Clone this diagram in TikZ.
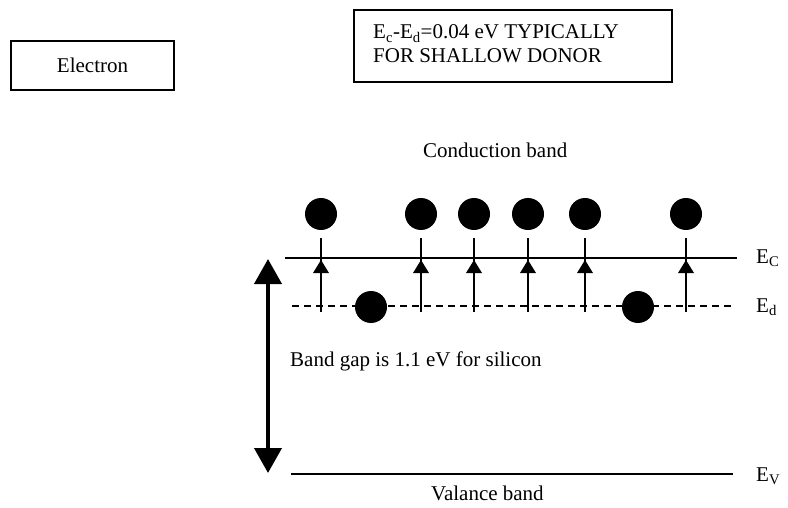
\documentclass[tikz,border=0pt]{standalone}
\usepackage{fontspec}
\setmainfont{Liberation Serif}
\usetikzlibrary{arrows.meta}
\begin{document}
\begin{tikzpicture}[x=1pt,y=-1pt,
  txt/.style={inner sep=0pt,anchor=base west,font=\fontsize{21}{24}\selectfont},
  frame/.style={draw,line width=1.6pt,inner sep=0pt},
  band/.style={line width=1.5pt},
  electron/.style={circle,fill=black,inner sep=0pt,minimum size=32pt},
  jump/.style={line width=2pt}]
\useasboundingbox (0,0) rectangle (788,508);

% legend boxes
\node[frame,minimum width=163pt,minimum height=49pt,font=\fontsize{21}{24}\selectfont] (legend) at (92.5,65.5) {Electron};
\node[frame,anchor=north west,minimum width=318pt,minimum height=72pt] (note) at (353,9) {};
\node[txt] (noteA) at (373,39) {E\textsubscript{c}-E\textsubscript{d}=0.04 eV TYPICALLY};
\node[txt] (noteB) at (373,63) {FOR SHALLOW DONOR};

% band edges
\coordinate (ecL) at (285,258); \coordinate (ecR) at (737,258);
\coordinate (edL) at (292,306); \coordinate (edR) at (733,306);
\coordinate (evL) at (291,474); \coordinate (evR) at (733,474);
\draw[band] (ecL) -- (ecR);
\draw[band,dash pattern=on 7pt off 5pt] (edL) -- (edR);
\draw[band] (evL) -- (evR);

\node[txt] (ec) at (756,263) {E\textsubscript{C}};
\node[txt] (ed) at (756,312) {E\textsubscript{d}};
\node[txt] (ev) at (756,481) {E\textsubscript{V}};

\node[txt] (cb) at (423,158) {Conduction band};
\node[txt] (vb) at (431,500) {Valance band};
\node[txt] (gap) at (290,366) {Band gap is 1.1 eV for silicon};

% band gap double arrow
\coordinate (gapTop) at (268,259);
\coordinate (gapBot) at (268,473);
\draw[line width=4pt,{Triangle[length=25pt,width=27pt]}-{Triangle[length=25pt,width=27pt]}] (gapTop) -- (gapBot);

% donor electrons excited into the conduction band
\foreach \x/\n in {321/a,421/b,474/c,528/d,585/e,686/f}{
  \node[electron] (up\n) at (\x,214) {};
  \coordinate (lo\n) at (\x,312);
  \coordinate (hi\n) at (\x,238);
  \draw[jump] (lo\n) -- (hi\n);
  \fill (\x-8,273) -- (\x,260) -- (\x+8,273) -- cycle;
}

% electrons remaining on donor level
\node[electron] (donA) at (371,307) {};
\node[electron] (donB) at (638,307) {};
\end{tikzpicture}
\end{document}
